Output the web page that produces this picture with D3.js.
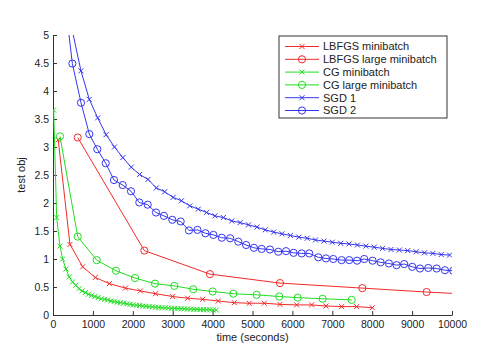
<!DOCTYPE html>
<html>
<head>
<meta charset="utf-8">
<script src="https://cdn.jsdelivr.net/npm/d3@7"></script>
<style>
  body { margin: 0; background: #fff; }
  text { font-family: "Liberation Sans", Arial, sans-serif; fill: #222; }
</style>
</head>
<body>
<script>
const Width = 493;
const Height = 353;

const margin = { left: 53, right: 41, top: 35, bottom: 38 };
const innerWidth = Width - margin.left - margin.right;
const innerHeight = Height - margin.top - margin.bottom;

// series (time in seconds, test objective)
const lbfgsMiniT = [130, 425, 744, 1060, 1412, 1815, 2190, 2570, 2999, 3375, 3751, 4143, 4544, 4920, 5295, 5689, 6107, 6482, 6841, 7234, 7610, 8002];
const lbfgsMiniY = [3.13, 1.26, 0.86, 0.67, 0.56, 0.48, 0.43, 0.38, 0.33, 0.30, 0.28, 0.25, 0.22, 0.21, 0.21, 0.19, 0.18, 0.18, 0.16, 0.15, 0.15, 0.13];

const lbfgsLargeT = [619, 2289, 3934, 5689, 7752, 9365, 11000];
const lbfgsLargeY = [3.17, 1.15, 0.73, 0.57, 0.48, 0.41, 0.35];

const cgMiniT = [17, 92, 175, 242, 326, 409, 490, 570, 650, 730, 810, 890, 970, 1050, 1130, 1210, 1290, 1370, 1450, 1530,
  1610, 1690, 1770, 1850, 1930, 2010, 2090, 2170, 2250, 2330, 2410, 2490, 2570, 2650, 2730, 2810, 2890, 2970, 3050, 3130,
  3210, 3290, 3370, 3450, 3530, 3610, 3690, 3770, 3850, 3930, 4010, 4090];
const cgMiniY = [3.66, 1.74, 1.23, 1.00, 0.82, 0.68, 0.59, 0.53, 0.47, 0.43, 0.40, 0.37, 0.35, 0.33, 0.31, 0.29, 0.28, 0.27, 0.25, 0.24,
  0.23, 0.22, 0.21, 0.20, 0.19, 0.18, 0.175, 0.17, 0.16, 0.155, 0.15, 0.145, 0.14, 0.135, 0.13, 0.128, 0.125, 0.12, 0.118, 0.115,
  0.112, 0.11, 0.107, 0.105, 0.102, 0.10, 0.098, 0.096, 0.094, 0.092, 0.09, 0.088];

const cgLargeT = [175, 619, 1095, 1579, 2055, 2556, 3040, 3516, 4002, 4519, 5104, 5671, 6132, 6758, 7485];
const cgLargeY = [3.19, 1.40, 0.98, 0.79, 0.66, 0.56, 0.52, 0.46, 0.42, 0.38, 0.36, 0.33, 0.31, 0.29, 0.27];

const sgd1T = [490, 700, 910, 1120, 1330, 1540, 1750, 1960, 2170, 2380, 2590, 2800, 3010, 3220, 3430, 3640, 3850, 4060, 4270, 4480,
  4690, 4900, 5110, 5320, 5530, 5740, 5950, 6160, 6370, 6580, 6790, 7000, 7210, 7420, 7630, 7840, 8050, 8260, 8470, 8680,
  8890, 9100, 9310, 9520, 9730, 9940];
const sgd1Y = [5.06, 4.36, 3.85, 3.52, 3.22, 3.00, 2.81, 2.64, 2.51, 2.42, 2.27, 2.20, 2.10, 2.04, 1.95, 1.89, 1.83, 1.77, 1.74, 1.68,
  1.65, 1.61, 1.57, 1.52, 1.48, 1.45, 1.42, 1.39, 1.37, 1.34, 1.32, 1.30, 1.28, 1.27, 1.25, 1.23, 1.21, 1.19, 1.17, 1.16,
  1.15, 1.13, 1.11, 1.10, 1.08, 1.07];

const sgd2T = [277, 485, 702, 911, 1111, 1321, 1529, 1747, 1955, 2163, 2373, 2581, 2780, 2990, 3200, 3408, 3620, 3820, 4020, 4230,
  4440, 4645, 4840, 5037, 5230, 5438, 5646, 5840, 6030, 6232, 6423, 6649, 6841, 7024, 7233, 7424, 7620, 7800, 8010, 8211,
  8419, 8612, 8803, 9004, 9197, 9405, 9615, 9823, 10030];
const sgd2Y = [5.75, 4.49, 3.79, 3.23, 2.96, 2.71, 2.41, 2.32, 2.21, 2.01, 1.97, 1.83, 1.77, 1.70, 1.67, 1.51, 1.52, 1.46, 1.43, 1.38,
  1.37, 1.31, 1.25, 1.20, 1.18, 1.17, 1.13, 1.14, 1.11, 1.10, 1.10, 1.03, 1.01, 1.00, 0.98, 0.98, 0.97, 1.00, 0.97, 0.94,
  0.92, 0.89, 0.91, 0.86, 0.83, 0.84, 0.83, 0.80, 0.79];

const xTicks = [0, 1000, 2000, 3000, 4000, 5000, 6000, 7000, 8000, 9000, 10000];
const yTicks = [0, 0.5, 1, 1.5, 2, 2.5, 3, 3.5, 4, 4.5, 5];

const seriesNames = ["LBFGS minibatch", "LBFGS large minibatch", "CG minibatch", "CG large minibatch", "SGD 1", "SGD 2"];

const red = "#f22a2a", green = "#22dd22", blue = "#3636ee";

const series = [
  { name: seriesNames[0], t: lbfgsMiniT, y: lbfgsMiniY, color: red, marker: "x" },
  { name: seriesNames[1], t: lbfgsLargeT, y: lbfgsLargeY, color: red, marker: "o" },
  { name: seriesNames[2], t: cgMiniT, y: cgMiniY, color: green, marker: "x" },
  { name: seriesNames[3], t: cgLargeT, y: cgLargeY, color: green, marker: "o" },
  { name: seriesNames[4], t: sgd1T, y: sgd1Y, color: blue, marker: "x" },
  { name: seriesNames[5], t: sgd2T, y: sgd2Y, color: blue, marker: "o" }
];

const svg = d3.select('body')
  .append('svg')
    .attr('width', Width)
    .attr('height', Height);

const g = svg.append('g')
  .attr('transform', `translate(${margin.left}, ${margin.top})`);

const xScale = d3.scaleLinear().domain([0, 10000]).range([0, innerWidth]);
const yScale = d3.scaleLinear().domain([0, 5]).range([innerHeight, 0]);

svg.append('defs').append('clipPath')
  .attr('id', 'plotclip')
  .append('rect')
    .attr('width', innerWidth)
    .attr('height', innerHeight);

// axes, ticks pointing inward like matlab
const xAxisG = g.append('g')
  .attr('transform', `translate(0, ${innerHeight})`)
  .call(d3.axisBottom(xScale).tickValues(xTicks).tickSizeInner(-4).tickSizeOuter(0).tickPadding(6).tickFormat(d3.format('d')));

const yAxisG = g.append('g')
  .call(d3.axisLeft(yScale).tickValues(yTicks).tickSizeInner(-4).tickSizeOuter(0).tickPadding(4).tickFormat(d => d));

[xAxisG, yAxisG].forEach(a => {
  a.selectAll('text').style('font-size', '10.5px').style('font-family', '"Liberation Sans", Arial, sans-serif').attr('fill', '#222');
  a.selectAll('line').attr('stroke', '#333');
  a.select('.domain').attr('stroke', '#333');
});

svg.append('text')
  .attr('x', margin.left + innerWidth / 2)
  .attr('y', 341)
  .attr('text-anchor', 'middle')
  .style('font-size', '11px')
  .text('time (seconds)');

svg.append('text')
  .attr('transform', `translate(25, ${margin.top + innerHeight / 2}) rotate(-90)`)
  .attr('text-anchor', 'middle')
  .style('font-size', '11px')
  .text('test obj');

const drawMarker = (sel, marker, color) => {
  if (marker === 'o') {
    sel.append('circle')
      .attr('r', 3.6)
      .attr('fill', 'none')
      .attr('stroke', color)
      .attr('stroke-width', 1);
  } else {
    sel.append('path')
      .attr('d', 'M-2.5,-2.5L2.5,2.5M-2.5,2.5L2.5,-2.5')
      .attr('stroke', color)
      .attr('stroke-width', 1);
  }
};

const plot = g.append('g').attr('clip-path', 'url(#plotclip)');

const line = d3.line()
  .x(d => xScale(d[0]))
  .y(d => yScale(d[1]));

series.forEach(s => {
  const pts = s.t.map((t, i) => [t, s.y[i]]);
  plot.append('path')
    .datum(pts)
    .attr('fill', 'none')
    .attr('stroke', s.color)
    .attr('stroke-width', 1)
    .attr('d', line);

  plot.selectAll(null)
    .data(pts)
    .join('g')
      .attr('transform', d => `translate(${xScale(d[0])}, ${yScale(d[1])})`)
      .each(function() { drawMarker(d3.select(this), s.marker, s.color); });
});

// legend
const legendG = svg.append('g')
  .attr('transform', 'translate(279, 36)');

legendG.append('rect')
  .attr('width', 168)
  .attr('height', 82)
  .attr('fill', '#fff')
  .attr('stroke', '#333')
  .attr('stroke-width', 1);

const legendItem = legendG.selectAll('.legend-item')
  .data(series)
  .join('g')
    .attr('class', 'legend-item')
    .attr('transform', (d, i) => `translate(0, ${10.5 + i * 12.8})`);

legendItem.append('line')
  .attr('x1', 6)
  .attr('x2', 40)
  .attr('stroke', d => d.color)
  .attr('stroke-width', 1);

legendItem.each(function(d) {
  const m = d3.select(this).append('g').attr('transform', 'translate(23, 0)');
  drawMarker(m, d.marker, d.color);
});

legendItem.append('text')
  .attr('x', 44)
  .attr('dy', '0.35em')
  .style('font-size', '11px')
  .text(d => d.name);
</script>
</body>
</html>
